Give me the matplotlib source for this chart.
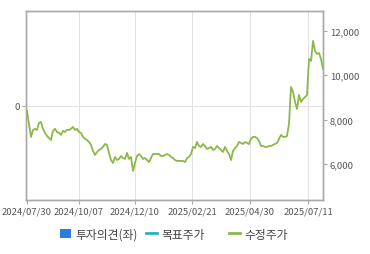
import numpy as np
import matplotlib.pyplot as plt
from matplotlib.patches import Patch
from matplotlib.lines import Line2D

plt.rcParams['font.family'] = ['Noto Sans CJK KR', 'DejaVu Sans']

# 수정주가 (약 2거래일 간격으로 읽은 값)
prices = [
    8390, 7810, 7230, 7540, 7590, 7540, 7860, 7900, 7590, 7410,
    7270, 7180, 7090, 7500, 7590, 7450, 7410, 7320, 7500, 7450,
    7540, 7540, 7590, 7680, 7540, 7590, 7450, 7410, 7230, 7140,
    7090, 7000, 6870, 6600, 6420, 6550, 6640, 6690, 6780, 6910,
    6870, 6510, 6190, 6060, 6330, 6190, 6240, 6370, 6280, 6240,
    6510, 6240, 6330, 5700, 6060, 6370, 6460, 6370, 6240, 6280,
    6190, 6100, 6280, 6460, 6460, 6460, 6460, 6370, 6370, 6420,
    6460, 6420, 6330, 6280, 6190, 6150, 6150, 6150, 6150, 6100,
    6280, 6330, 6460, 6780, 6730, 7000, 6820, 6780, 6910, 6820,
    6690, 6730, 6780, 6640, 6690, 6820, 6730, 6640, 6550, 6780,
    6600, 6460, 6190, 6600, 6730, 6820, 7000, 6960, 6910, 7000,
    6960, 6910, 7140, 7230, 7230, 7180, 7050, 6820, 6820, 6780,
    6780, 6820, 6820, 6870, 6910, 6960, 7140, 7320, 7230, 7230,
    7270, 7810, 9470, 9250, 8800, 8480, 9110, 8800, 8930, 9020,
    9110, 10730, 10640, 11540, 11090, 10950, 11000, 10730, 10280,
]
tick_pos = [0, 26, 54, 82.5, 111.5, 140.5]
tick_labels = ['2024/07/30', '2024/10/07', '2024/12/10',
               '2025/02/21', '2025/04/30', '2025/07/11']
right_ticks = [6000, 8000, 10000, 12000]

green = '#8cb84a'
frame = '#aaaaaa'
txt = '#555555'
grid_c = '#e2e2e2'

fig = plt.figure(figsize=(3.7, 2.55), dpi=100)
ax = fig.add_axes([0.0716, 0.213, 0.8014, 0.738])
ax2 = ax.twinx()

x = np.arange(len(prices))
ax2.plot(x, prices, color=green, lw=1.3, solid_joinstyle='round', zorder=3)

ax.set_xlim(-0.25, 148)
ax.set_ylim(-1, 1)
ax2.set_ylim(4410, 12860)

ax.set_xticks(tick_pos)
ax.set_xticklabels(tick_labels)
ax.set_yticks([0])
ax2.set_yticks(right_ticks)
ax2.set_yticklabels([f'{v:,}' for v in right_ticks])

# 격자: 날짜 눈금 위치(세로)와 왼쪽 0 위치(가로)
for p in tick_pos[1:]:
    ax.axvline(p, color=grid_c, lw=0.7, zorder=0, antialiased=False)
ax.axhline(0, color=grid_c, lw=0.7, zorder=0, antialiased=False)

for a in (ax, ax2):
    for s in a.spines.values():
        s.set_color(frame)
        s.set_linewidth(1.0)
    a.tick_params(colors=frame, labelcolor=txt, labelsize=6.8, length=3, width=0.8, pad=2)

# 범례
items = [
    (Patch(facecolor='#2b7de0', edgecolor='none'), '투자의견(좌)', 0.163),
    (Line2D([], [], color='#2ab0bf', lw=2), '목표주가', 0.395),
    (Line2D([], [], color=green, lw=2), '수정주가', 0.620),
]
for h, lab, xa in items:
    leg = fig.legend([h], [lab], loc='center left', bbox_to_anchor=(xa, 0.078),
                     frameon=False, fontsize=8.5, handlelength=0.9, handleheight=0.9,
                     handletextpad=0.35, borderpad=0, borderaxespad=0)
    for t in leg.get_texts():
        t.set_color('#444444')

fig.savefig('out.png', dpi=100)
